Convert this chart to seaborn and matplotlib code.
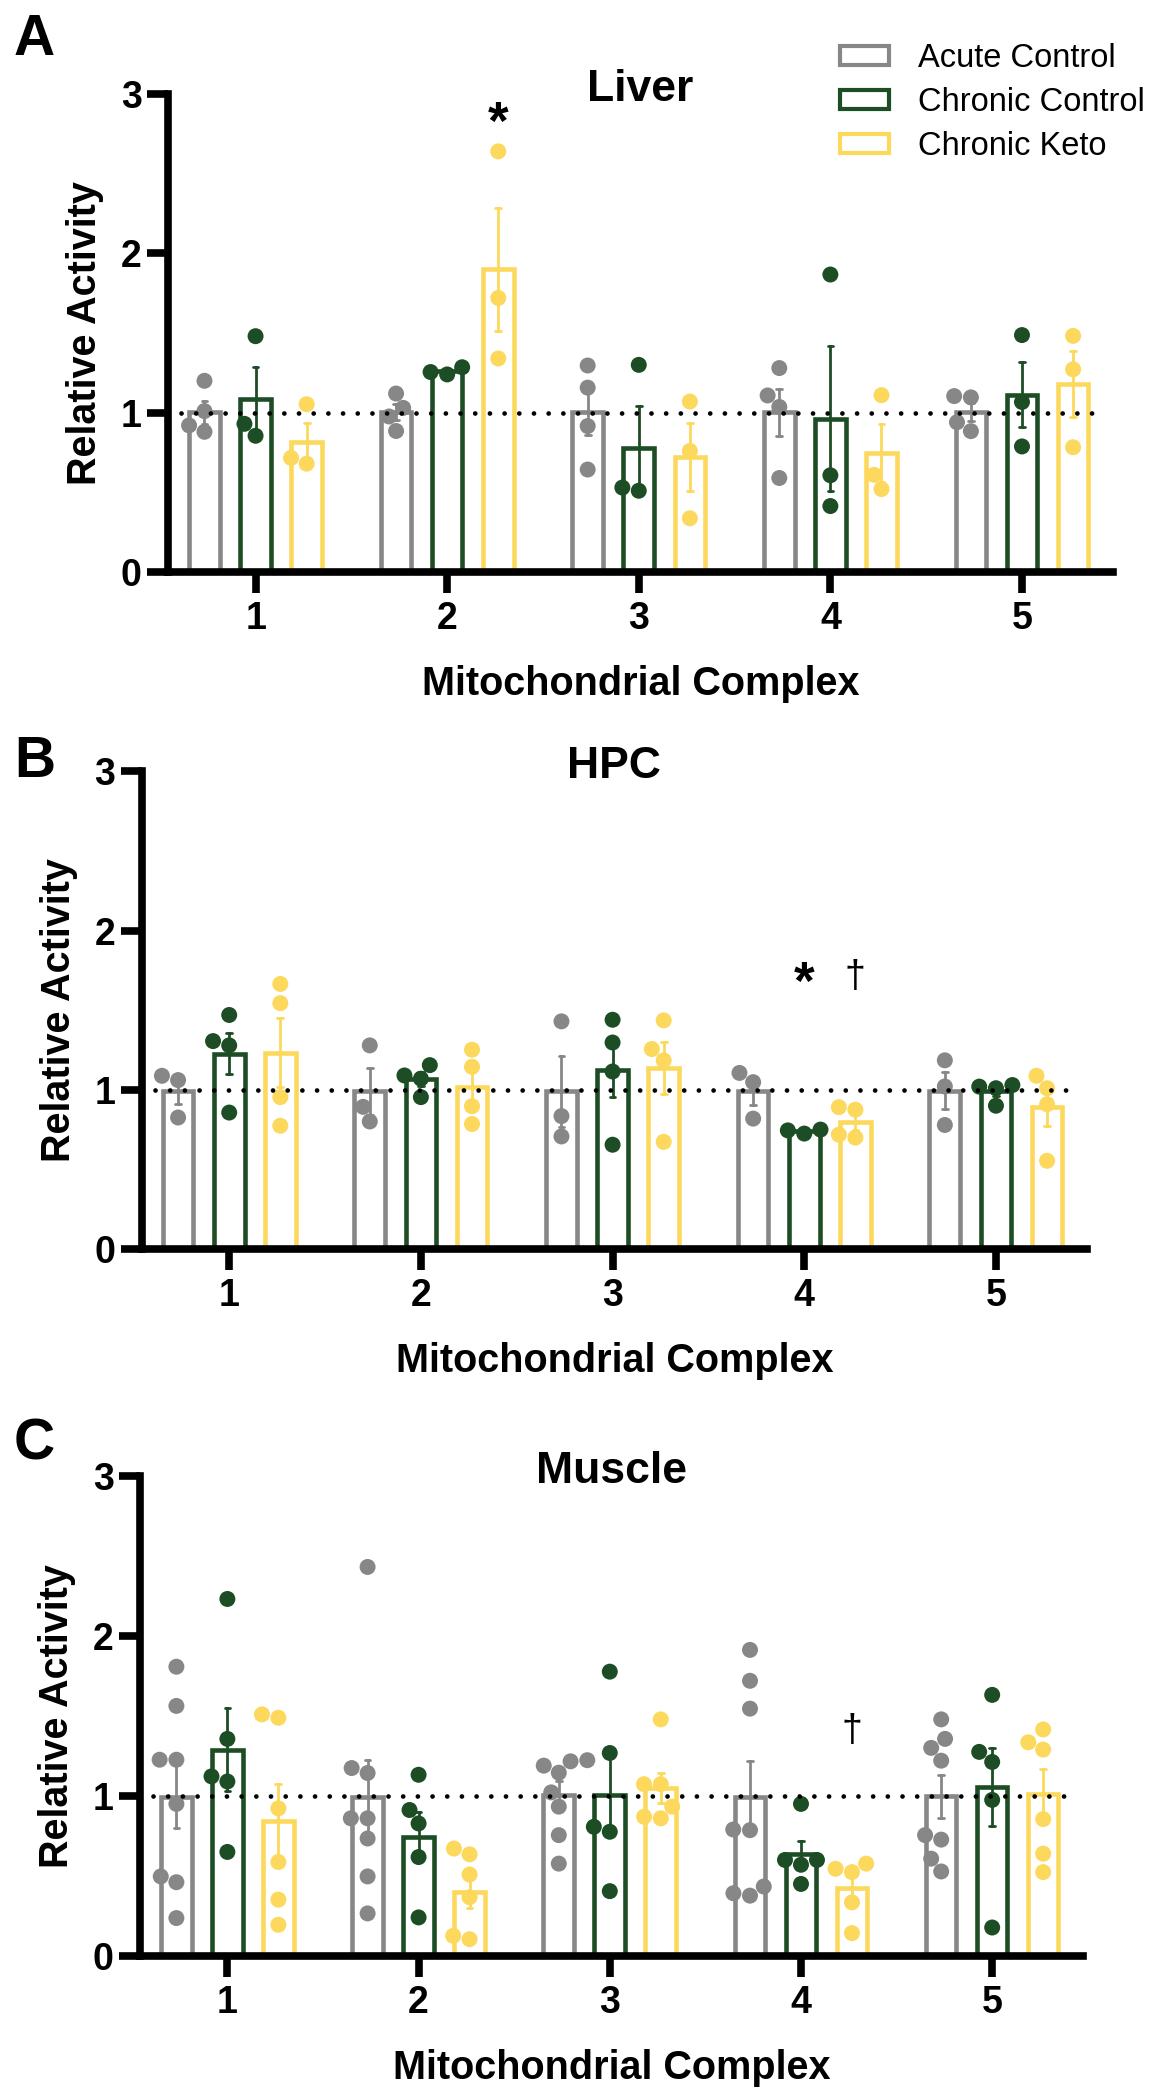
import numpy as np
import pandas as pd
import matplotlib
matplotlib.use("Agg")
import matplotlib.pyplot as plt
import matplotlib.patches as mpatches
import seaborn as sns

# ---------------- data ----------------
complexes = ["1", "2", "3", "4", "5"]
groups = ["Acute Control", "Chronic Control", "Chronic Keto"]
colors = ["#878787", "#1D4D24", "#FCD85C"]

liver_acute = [[1.20, 1.01, 0.92, 0.88], [1.03, 1.12, 0.885, 0.976], [1.296, 1.157, 0.916, 0.643],
               [1.28, 1.108, 1.036, 0.59], [1.096, 1.104, 0.884, 0.94]]
liver_chronic = [[1.48, 0.855, 0.93], [1.24, 1.285, 1.255], [1.30, 0.51, 0.53],
                 [1.867, 0.607, 0.414], [1.487, 1.067, 0.788]]
liver_keto = [[1.053, 0.68, 0.716], [2.64, 1.72, 1.34], [1.07, 0.76, 0.337],
              [1.11, 0.61, 0.52], [1.482, 1.272, 0.783]]

hpc_acute = [[1.088, 1.061, 0.826], [1.279, 0.893, 0.801], [1.43, 0.835, 0.707],
             [1.106, 1.048, 0.819], [1.185, 1.021, 0.779]]
hpc_chronic = [[1.47, 1.306, 1.279, 0.857], [1.155, 1.09, 1.07, 0.954], [1.44, 1.297, 1.115, 0.655],
               [0.725, 0.745, 0.75], [1.03, 1.02, 1.01, 0.90]]
hpc_keto = [[1.665, 1.544, 0.954, 0.774], [1.252, 1.144, 0.897, 0.785], [1.436, 1.256, 1.185, 0.673],
            [0.875, 0.891, 0.70, 0.718], [1.088, 1.01, 0.909, 0.554]]

muscle_acute = [[1.807, 1.562, 1.226, 1.226, 0.95, 0.497, 0.461, 0.237],
                [2.43, 1.174, 1.143, 0.86, 0.86, 0.734, 0.497, 0.266],
                [1.216, 1.223, 1.189, 1.145, 1.022, 0.933, 0.755, 0.577],
                [1.912, 1.719, 1.545, 0.79, 0.786, 0.434, 0.392, 0.377],
                [1.478, 1.356, 1.30, 1.22, 0.755, 0.727, 0.608, 0.528]]
muscle_chronic = [[2.23, 1.356, 1.122, 1.09, 0.65], [1.132, 0.912, 0.828, 0.618, 0.241],
                  [1.776, 1.268, 0.807, 0.776, 0.405], [0.95, 0.60, 0.57, 0.60, 0.45],
                  [1.631, 1.275, 1.212, 0.975, 0.178]]
muscle_keto = [[1.488, 1.509, 0.922, 0.587, 0.352, 0.195], [0.635, 0.671, 0.509, 0.367, 0.105, 0.126],
               [1.478, 1.073, 1.073, 0.933, 0.86, 0.87], [0.524, 0.577, 0.545, 0.335, 0.143],
               [1.415, 1.335, 1.289, 0.855, 0.639, 0.524]]

panel_titles = ["Liver", "HPC", "Muscle"]
panel_letters = ["A", "B", "C"]
y_ticks = [0, 1, 2, 3]
# significance marks: (complex index, group index, y, symbol)
liver_marks = [(1, 2, 2.72, "*")]
hpc_marks = [(3, 1, 1.57, "*"), (3, 2, 1.648, "\u2020")]
muscle_marks = [(3, 2, 1.34, "\u2020")]


def long_frame(acute, chronic, keto):
    rows = []
    for grp, series in zip(groups, (acute, chronic, keto)):
        for cx, vals in zip(complexes, series):
            for v in vals:
                rows.append((cx, grp, v))
    return pd.DataFrame(rows, columns=["complex", "group", "value"])


frames = [long_frame(liver_acute, liver_chronic, liver_keto),
          long_frame(hpc_acute, hpc_chronic, hpc_keto),
          long_frame(muscle_acute, muscle_chronic, muscle_keto)]
marks = [liver_marks, hpc_marks, muscle_marks]

# ---------------- style ----------------
sns.set_theme(style="ticks")
plt.rcParams["font.family"] = ["Liberation Sans", "DejaVu Sans"]
plt.rcParams.update({
    "axes.linewidth": 5.5,
    "axes.edgecolor": "black",
    "axes.labelcolor": "black",
    "text.color": "black",
    "xtick.color": "black",
    "ytick.color": "black",
})

W, H = 1160, 2100
fig = plt.figure(figsize=(W / 100, H / 100), dpi=100)

# axes boxes in pixels: left, top, right, bottom
boxes = [(168, 94, 1113, 572), (141.6, 771.4, 1087, 1249), (140, 1475.7, 1083, 1956)]
letter_pos = [(14, 55), (14, 777), (14, 1459)]
palette = dict(zip(groups, colors))
hue_w = 0.8 / 3

for i, df in enumerate(frames):
    l, t, r, b = boxes[i]
    ax = fig.add_axes([l / W, 1 - b / H, (r - l) / W, (b - t) / H])
    sns.barplot(data=df, x="complex", y="value", hue="group", order=complexes,
                hue_order=groups, palette=palette, errorbar="se", capsize=0.09,
                fill=False, linewidth=3.3, width=0.8, gap=0.40,
                err_kws={"linewidth": 2.0}, legend=False, ax=ax)
    sns.swarmplot(data=df, x="complex", y="value", hue="group", order=complexes,
                  hue_order=groups, palette=palette, dodge=True, size=11.5,
                  linewidth=0, legend=False, ax=ax, warn_thresh=1)
    ax.axhline(1, xmin=0.014, xmax=0.988, color="black", lw=3.4,
               linestyle=(0, (0.01, 3.1)), dash_capstyle="round", zorder=6)
    ax.set_xlim(-0.457, 4.475)
    ax.set_ylim(0, 3)
    ax.set_yticks(y_ticks)
    sns.despine(ax=ax)
    ax.tick_params(axis="both", length=15, width=5.5, labelsize=27, color="black",
                   labelcolor="black")
    ax.tick_params(axis="x", pad=6)
    ax.tick_params(axis="y", pad=4)
    for lab in ax.get_xticklabels() + ax.get_yticklabels():
        lab.set_fontweight("bold")
    ax.set_xlabel("Mitochondrial Complex", fontsize=28.5, fontweight="bold", labelpad=20)
    ax.set_ylabel("Relative Activity", fontsize=28.5, fontweight="bold", labelpad=12)
    ax.text(0.5, 1 - 7 / (b - t), panel_titles[i], transform=ax.transAxes,
            ha="center", va="baseline", fontsize=32, fontweight="bold")
    for cx, gi, yv, sym in marks[i]:
        if sym == "*":
            ax.text(cx + (gi - 1) * hue_w, yv, sym, ha="center", va="baseline",
                    fontsize=38, fontweight="bold", zorder=7)
        else:
            ax.text(cx + (gi - 1) * hue_w, yv, sym, ha="center", va="baseline",
                    fontsize=27, zorder=7)
    lx, ly = letter_pos[i]
    fig.text(lx / W, 1 - ly / H, panel_letters[i], ha="left", va="baseline",
             fontsize=41, fontweight="bold")

handles = [mpatches.Patch(facecolor="white", edgecolor=c, linewidth=3) for c in colors]
fig.legend(handles, groups, loc="upper left", bbox_to_anchor=(840 / W, 1 - 43 / H),
           frameon=False, fontsize=23.5, handlelength=1.5, handleheight=0.5,
           handletextpad=0.9, labelspacing=0.4, borderpad=0, borderaxespad=0)

fig.savefig("out.png", dpi=100, facecolor="white")
